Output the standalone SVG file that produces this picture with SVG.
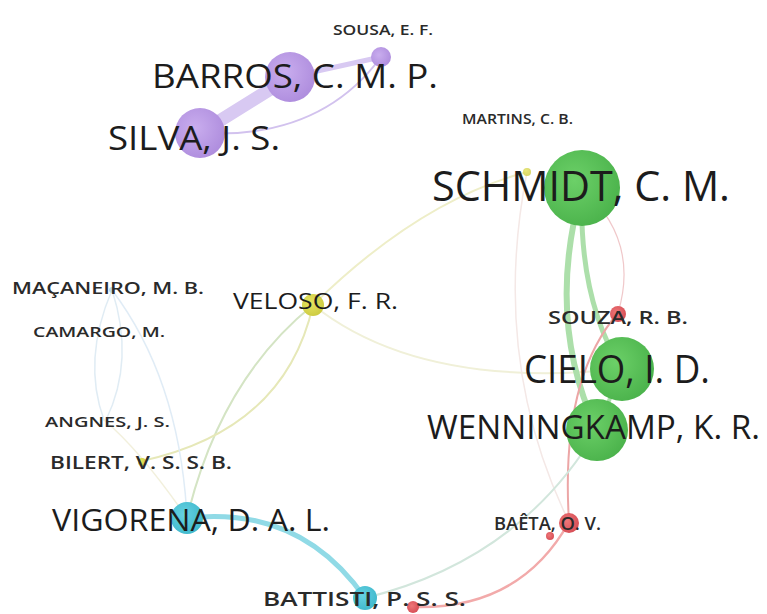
<svg xmlns="http://www.w3.org/2000/svg" width="767" height="614" viewBox="0 0 767 614">
<defs>
<style>
.lbl{font-family:"Open Sans","Noto Sans","Liberation Sans",sans-serif;fill:#1c1c1c;}
.sm{font-weight:600;fill:#2a2a2a;}
.e{fill:none;stroke-linecap:round;}
</style>
<radialGradient id="gP" cx="0.4" cy="0.4" r="0.7"><stop offset="0" stop-color="#c9adee"/><stop offset="1" stop-color="#ac8adc"/></radialGradient>
<radialGradient id="gG" cx="0.4" cy="0.4" r="0.7"><stop offset="0" stop-color="#6cd068"/><stop offset="1" stop-color="#48b049"/></radialGradient>
<radialGradient id="gC" cx="0.4" cy="0.4" r="0.7"><stop offset="0" stop-color="#66d2e2"/><stop offset="1" stop-color="#3cb6ca"/></radialGradient>
<radialGradient id="gR" cx="0.4" cy="0.4" r="0.7"><stop offset="0" stop-color="#ee7678"/><stop offset="1" stop-color="#d44a52"/></radialGradient>
<radialGradient id="gY" cx="0.4" cy="0.4" r="0.7"><stop offset="0" stop-color="#e6e460"/><stop offset="1" stop-color="#cac83e"/></radialGradient>
</defs>
<rect width="767" height="614" fill="#ffffff"/>
<g id="connectors">
<path class="e" d="M200,133 L290,77" stroke="#d8c9f2" stroke-width="13"/>
<path class="e" d="M290,77 L381,57" stroke="#d8c9f2" stroke-width="5"/>
<path class="e" d="M200,133 Q320,140 381,57" stroke="#d2c2ee" stroke-width="2"/>
<path class="e" d="M313,305 Q420,200 527,172" stroke="#eeeec8" stroke-width="2"/>
<path class="e" d="M313,305 Q420,390 622,369" stroke="#f0f0d8" stroke-width="2"/>
<path class="e" d="M527,172 Q490,360 569,522" stroke="#f4e8e6" stroke-width="1.5"/>
<path class="e" d="M582,188 Q640,240 618,313" stroke="#f0c8ca" stroke-width="1.2"/>
<path class="e" d="M582,188 Q545,320 597,430" stroke="#acdfaa" stroke-width="6"/>
<path class="e" d="M582,188 Q578,300 622,369" stroke="#acdfaa" stroke-width="5"/>
<path class="e" d="M622,369 L597,430" stroke="#acdfaa" stroke-width="4"/>
<path class="e" d="M618,313 Q560,380 569,522" stroke="#eca6a6" stroke-width="2"/>
<path class="e" d="M569,522 Q520,610 413,607" stroke="#f2aaaa" stroke-width="2.5"/>
<path class="e" d="M597,430 Q520,560 365,598" stroke="#d2e6dc" stroke-width="2"/>
<path class="e" d="M187,518 Q300,505 365,598" stroke="#90dae6" stroke-width="5"/>
<path class="e" d="M187,518 Q220,380 313,305" stroke="#d4e4c4" stroke-width="2"/>
<path class="e" d="M142,461 Q285,430 313,305" stroke="#e6e8b8" stroke-width="2"/>
<path class="e" d="M112,290 Q180,380 187,518" stroke="#e0ecf6" stroke-width="1.5"/>
<path class="e" d="M112,290 Q82,360 104,420" stroke="#e0ecf4" stroke-width="1.5"/>
<path class="e" d="M112,290 Q135,360 106,420" stroke="#e0ecf4" stroke-width="1.5"/>
<path class="e" d="M104,420 Q140,450 187,518" stroke="#f2f0dc" stroke-width="1.5"/>
</g>
<g id="n-sousa"><circle cx="381" cy="57" r="10" fill="url(#gP)"/><text class="lbl sm" x="333" y="35" font-size="15" textLength="100" lengthAdjust="spacingAndGlyphs">SOUSA, E. F.</text></g>
<g id="n-barros"><circle cx="290" cy="77" r="25" fill="url(#gP)"/><text class="lbl" x="152" y="88" font-size="33" textLength="286" lengthAdjust="spacingAndGlyphs">BARROS, C. M. P.</text></g>
<g id="n-silva"><circle cx="200" cy="133" r="25" fill="url(#gP)"/><text class="lbl" x="108" y="150" font-size="33" textLength="172" lengthAdjust="spacingAndGlyphs">SILVA, J. S.</text></g>
<g id="n-martins"><circle cx="527" cy="172" r="4" fill="url(#gY)" opacity="0.8"/><text class="lbl sm" x="462" y="124" font-size="14" textLength="111" lengthAdjust="spacingAndGlyphs">MARTINS, C. B.</text></g>
<g id="n-schmidt"><circle cx="582" cy="188" r="38" fill="url(#gG)"/><text class="lbl" x="432" y="201" font-size="42" textLength="298" lengthAdjust="spacingAndGlyphs">SCHMIDT, C. M.</text></g>
<g id="n-veloso"><circle cx="313" cy="305" r="11" fill="url(#gY)"/><text class="lbl" x="233" y="309" font-size="22" textLength="165" lengthAdjust="spacingAndGlyphs">VELOSO, F. R.</text></g>
<g id="n-macaneiro"><circle cx="112" cy="290" r="3" fill="#b8d8ee"/><text class="lbl sm" x="12" y="294" font-size="17" textLength="192" lengthAdjust="spacingAndGlyphs">MAÇANEIRO, M. B.</text></g>
<g id="n-camargo"><text class="lbl sm" x="33" y="337" font-size="15" textLength="132" lengthAdjust="spacingAndGlyphs">CAMARGO, M.</text></g>
<g id="n-angnes"><text class="lbl sm" x="45" y="427" font-size="15" textLength="125" lengthAdjust="spacingAndGlyphs">ANGNES, J. S.</text></g>
<g id="n-bilert"><circle cx="142" cy="462" r="4" fill="url(#gY)"/><text class="lbl sm" x="50" y="469" font-size="18" textLength="182" lengthAdjust="spacingAndGlyphs">BILERT, V. S. S. B.</text></g>
<g id="n-vigorena"><circle cx="187" cy="518" r="16" fill="url(#gC)"/><text class="lbl" x="52" y="531" font-size="31" textLength="278" lengthAdjust="spacingAndGlyphs">VIGORENA, D. A. L.</text></g>
<g id="n-souza"><circle cx="618" cy="314" r="8" fill="url(#gR)"/><text class="lbl sm" x="548" y="324" font-size="18" textLength="140" lengthAdjust="spacingAndGlyphs">SOUZA, R. B.</text></g>
<g id="n-cielo"><circle cx="622" cy="369" r="32" fill="url(#gG)"/><text class="lbl" x="524" y="383" font-size="39" textLength="186" lengthAdjust="spacingAndGlyphs">CIELO, I. D.</text></g>
<g id="n-wenningkamp"><circle cx="597" cy="430" r="31" fill="url(#gG)"/><text class="lbl" x="427" y="439" font-size="33.5" textLength="333" lengthAdjust="spacingAndGlyphs">WENNINGKAMP, K. R.</text></g>
<g id="n-baeta"><circle cx="569" cy="523" r="10" fill="url(#gR)"/><circle cx="550" cy="536" r="4" fill="url(#gR)"/><text class="lbl sm" x="494" y="530" font-size="18" textLength="107" lengthAdjust="spacingAndGlyphs">BAÊTA, O. V.</text></g>
<g id="n-battisti"><circle cx="365" cy="598" r="12" fill="url(#gC)"/><circle cx="413" cy="607" r="6" fill="url(#gR)"/><text class="lbl sm" x="263" y="606" font-size="20" textLength="203" lengthAdjust="spacingAndGlyphs">BATTISTI, P. S. S.</text></g>
</svg>
